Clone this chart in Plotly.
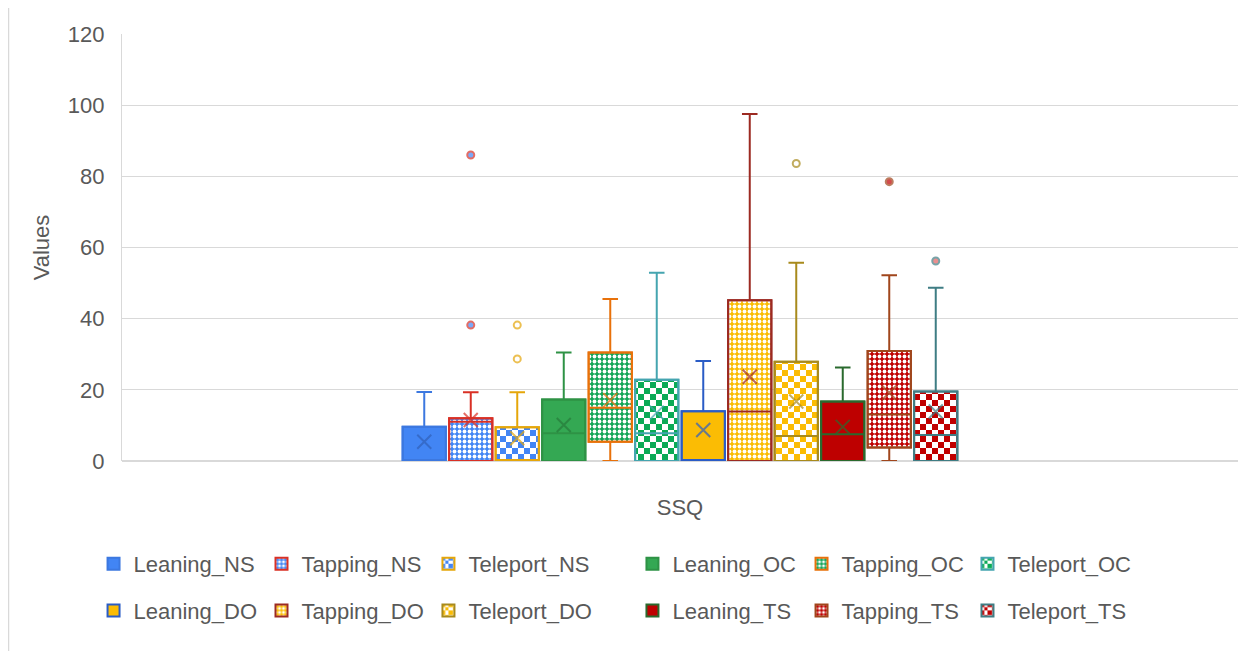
import plotly.graph_objects as go

category = "SSQ"
series = ["Leaning_NS", "Tapping_NS", "Teleport_NS",
          "Leaning_OC", "Tapping_OC", "Teleport_OC",
          "Leaning_DO", "Tapping_DO", "Teleport_DO",
          "Leaning_TS", "Tapping_TS", "Teleport_TS"]
q1 = [0, 0, 0, 0, 5.4, 0, 0, 0, 0, 0, 3.8, 0]
median = [0, 11.0, 0, 7.8, 15.0, 7.8, 0, 13.9, 7.0, 7.5, 13.1, 7.3]
q3 = [9.6, 12.0, 9.5, 17.3, 30.5, 22.8, 14.0, 45.2, 27.9, 16.7, 30.9, 19.5]
lower_whisker = [0, 0, 0, 0, 0, 0, 0, 0, 0, 0, 0, 0]
upper_whisker = [19.4, 19.3, 19.3, 30.5, 45.5, 52.9, 28.1, 97.5, 55.7, 26.3, 52.2, 48.7]
means = [5.4, 11.5, 6.4, 10.1, 17.1, 13.6, 8.7, 23.7, 16.7, 9.6, 19.2, 13.9]
outliers = [[], [38.2, 86.0], [28.7, 38.2], [], [], [], [], [], [83.6], [], [78.5], [56.2]]

fill_colors = ["#4285F4", "#4285F4", "#4285F4",
               "#34A853", "#12A557", "#0AAA55",
               "#FBBC04", "#FBBC04", "#FBBC04",
               "#BE0000", "#C00000", "#C00000"]
line_colors = ["#3C78E0", "#D93025", "#E5A60A",
               "#2E9245", "#E8710A", "#45A5B0",
               "#2A5CC6", "#9C2A22", "#A88A1C",
               "#2A6A2E", "#A0461C", "#3F7D84"]
mean_colors = ["#3160B8", "#D93025", "#E5A60A",
               "#267A3A", "#E8710A", "#45A5B0",
               "#2A5CC6", "#9C2A22", "#A88A1C",
               "#2A6A2E", "#A0461C", "#3F7D84"]
outlier_fill = ["#4285F4", "#4285F4", "#FFFFFF",
                "#34A853", "#12A557", "#FFFFFF",
                "#FBBC04", "#FBBC04", "#FFFFFF",
                "#C00000", "#C00000", "#E06060"]
fill_styles = ["solid", "dots", "checker"] * 4

TXT = "#595959"
FONT = "Liberation Sans, Arial, sans-serif"
GRID = "#d9d9d9"

has_path = "path" in go.bar.marker.Pattern()._valid_props


def pattern_for(style, color):
    if style == "solid":
        return None
    if style == "dots":
        return dict(shape=".", fgcolor="white", bgcolor=color, size=5, solidity=0.45, fillmode="replace")
    if has_path:
        return dict(path="M0,0H6V6H0Z M6,6H12V12H6Z", fgcolor=color, bgcolor="white", size=12, fillmode="replace")
    return dict(shape="+", fgcolor="white", bgcolor=color, size=12, solidity=0.5, fillmode="replace")


fig = go.Figure()
n = len(series)
for i in range(n):
    col = i % 6
    leg = "legend" if col == 0 else f"legend{col + 1}"
    pat = pattern_for(fill_styles[i], fill_colors[i])
    marker = dict(color=fill_colors[i], line=dict(color=line_colors[i], width=2))
    if pat is not None:
        marker["pattern"] = pat
    fig.add_trace(go.Bar(
        x=[category], y=[q3[i] - q1[i]], base=[q1[i]], name=series[i],
        marker=marker, legend=leg, legendgroup=series[i], hoverinfo="skip",
    ))

for i in range(n):
    fig.add_trace(go.Box(
        x=[category], q1=[q1[i]], median=[median[i]], q3=[q3[i]],
        lowerfence=[lower_whisker[i]], upperfence=[upper_whisker[i]],
        name=series[i], showlegend=False, boxpoints=False,
        fillcolor="rgba(0,0,0,0)", line=dict(color=line_colors[i], width=2),
        whiskerwidth=0.36,
    ))

for i in range(n):
    ys = [means[i]] + outliers[i]
    k = len(outliers[i])
    fig.add_trace(go.Scatter(
        x=[category] * len(ys), y=ys, mode="markers", showlegend=False,
        marker=dict(
            symbol=["x-thin-open"] + ["circle"] * k,
            size=[14] + [7] * k,
            color=[mean_colors[i]] + [outlier_fill[i]] * k,
            line=dict(color=line_colors[i], width=2),
        ),
        hoverinfo="y",
    ))

legend_x = [-0.0255, 0.125, 0.2746, 0.4574, 0.6089, 0.7576]
legends = {}
for c in range(6):
    key = "legend" if c == 0 else f"legend{c + 1}"
    legends[key] = dict(
        x=legend_x[c], xanchor="left", y=-0.192, yanchor="top",
        orientation="v", traceorder="grouped", tracegroupgap=15,
        font=dict(family=FONT, size=22, color=TXT),
        bgcolor="rgba(0,0,0,0)", borderwidth=0,
    )

fig.update_layout(
    width=1250, height=651,
    margin=dict(l=114, r=20, t=26, b=198, autoexpand=False),
    paper_bgcolor="white", plot_bgcolor="white",
    font=dict(family=FONT, size=22, color=TXT),
    barmode="group", bargap=0.5, bargroupgap=0.07,
    boxmode="group", boxgap=0.5, boxgroupgap=0.07,
    scattermode="group", scattergap=0.5,
    showlegend=True,
    shapes=[dict(type="rect", xref="paper", yref="paper",
                 x0=-0.1017, x1=1.3, y0=-1.0, y1=1.0656,
                 line=dict(color=GRID, width=1.5), fillcolor="rgba(0,0,0,0)", layer="below")],
    **legends,
)
fig.update_xaxes(
    type="category", showticklabels=False, ticks="", showgrid=False,
    showline=False, zeroline=False, automargin=False,
    title=dict(text="SSQ", font=dict(family=FONT, size=22, color=TXT), standoff=38),
)
fig.update_yaxes(
    range=[0, 120], tickvals=[0, 20, 40, 60, 80, 100, 120],
    showgrid=True, gridcolor=GRID, gridwidth=1.2,
    showline=True, linecolor=GRID, linewidth=1.2,
    zeroline=True, zerolinecolor=GRID, zerolinewidth=1.5,
    ticks="", ticklabelstandoff=12, automargin=False,
    tickfont=dict(family=FONT, size=22, color=TXT),
    title=dict(text="Values", font=dict(family=FONT, size=22, color=TXT), standoff=12),
)

fig.write_html("out.html")
